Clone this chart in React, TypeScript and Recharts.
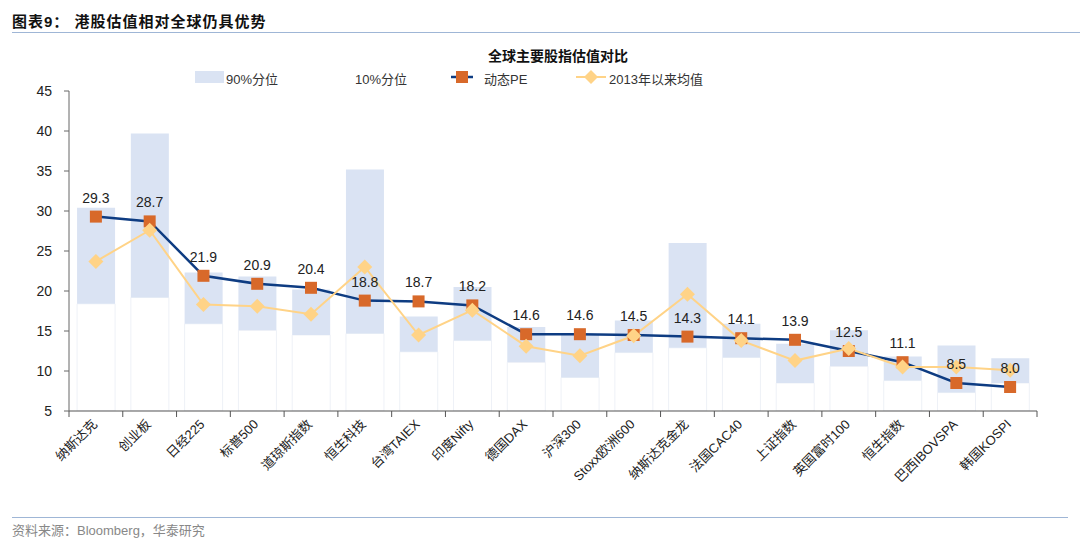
import { ComposedChart, Bar, Line, XAxis, YAxis, LabelList, Legend } from "recharts"

const categories = [
  "纳斯达克", "创业板", "日经225", "标普500", "道琼斯指数", "恒生科技", "台湾TAIEX", "印度Nifty", "德国DAX",
  "沪深300", "Stoxx欧洲600", "纳斯达克金龙", "法国CAC40", "上证指数", "英国富时100", "恒生指数", "巴西IBOVSPA", "韩国KOSPI",
]
const pe = [29.3, 28.7, 21.9, 20.9, 20.4, 18.8, 18.7, 18.2, 14.6, 14.6, 14.5, 14.3, 14.1, 13.9, 12.5, 11.1, 8.5, 8.0]
const avg2013 = [23.7, 27.6, 18.3, 18.1, 17.1, 23.0, 14.5, 17.6, 13.1, 11.9, 14.4, 19.6, 13.8, 11.3, 12.8, 10.5, 10.5, 10.1]
const p10 = [18.4, 19.2, 15.9, 15.1, 14.5, 14.7, 12.4, 13.8, 11.1, 9.2, 12.3, 12.9, 11.7, 8.5, 10.6, 8.8, 7.3, 8.5]
const p90 = [30.4, 39.7, 22.3, 21.8, 20.2, 35.2, 16.8, 20.5, 15.5, 14.5, 16.3, 26.0, 15.9, 13.4, 15.1, 11.8, 13.2, 11.6]
const yTicks = [5, 10, 15, 20, 25, 30, 35, 40, 45]

const data = categories.map((name, i) => ({
  name,
  p10: p10[i],
  band: +(p90[i] - p10[i]).toFixed(1),
  pe: pe[i],
  avg: avg2013[i],
}))

const FONT = '"Liberation Sans", Arial, "Noto Sans CJK SC", sans-serif'
const BAND = "#DAE3F3"
const NAVY = "#0E3C82"
const ORANGE = "#D8692A"
const GOLD = "#FFD387"
const bw = (1037 - 69) / categories.length

const Square = (props: any) => {
  const { cx, cy } = props
  if (cx == null || cy == null) return null
  return <rect x={cx - 6} y={cy - 6} width={12} height={12} fill={ORANGE} />
}

const Diamond = (props: any) => {
  const { cx, cy } = props
  if (cx == null || cy == null) return null
  const r = 7.5
  return <polygon points={`${cx},${cy - r} ${cx + r},${cy} ${cx},${cy + r} ${cx - r},${cy}`} fill={GOLD} />
}

const XTick = (props: any) => {
  const { x, y, payload, index } = props
  return (
    <g>
      {index === 0 && <line x1={x - bw / 2} y1={y} x2={x - bw / 2} y2={y + 6} stroke="#555" />}
      <line x1={x + bw / 2} y1={y} x2={x + bw / 2} y2={y + 6} stroke="#555" />
      <text
        x={x + 2}
        y={y + 14}
        textAnchor="end"
        transform={`rotate(-45 ${x + 2} ${y + 14})`}
        fontSize={13}
        fill="#222"
        fontFamily={FONT}
      >
        {payload.value}
      </text>
    </g>
  )
}

const LegendBox = () => (
  <div style={{ position: "relative", height: 20, fontFamily: FONT, fontSize: 13, color: "#333" }}>
    <div style={{ position: "absolute", left: 195, top: 3, width: 29, height: 12, background: BAND }} />
    <span style={{ position: "absolute", left: 226, top: 1 }}>90%分位</span>
    <span style={{ position: "absolute", left: 355, top: 1 }}>10%分位</span>
    <svg style={{ position: "absolute", left: 451, top: 1 }} width={22} height={16}>
      <line x1={0} y1={8} x2={22} y2={8} stroke={NAVY} strokeWidth={2.5} />
      <rect x={5} y={2} width={12} height={12} fill={ORANGE} />
    </svg>
    <span style={{ position: "absolute", left: 484, top: 1 }}>动态PE</span>
    <svg style={{ position: "absolute", left: 576, top: 1 }} width={30} height={16}>
      <line x1={0} y1={8} x2={30} y2={8} stroke={GOLD} strokeWidth={2} />
      <polygon points="15,1 22,8 15,15 8,8" fill={GOLD} />
    </svg>
    <span style={{ position: "absolute", left: 609, top: 1 }}>2013年以来均值</span>
  </div>
)

export default function App() {
  return (
    <div style={{ position: "absolute", left: 0, top: 0, width: 1080, height: 543, background: "#fff", fontFamily: FONT }}>
      <div style={{ position: "absolute", left: 12, top: 10, fontSize: 15, fontWeight: "bold", color: "#111", letterSpacing: 1 }}>
        图表9：&nbsp;港股估值相对全球仍具优势
      </div>
      <div style={{ position: "absolute", left: 12, right: 0, top: 32, height: 1, background: "#9FB6D6" }} />
      <div style={{ position: "absolute", left: 0, width: 1116, top: 45, textAlign: "center", fontSize: 14, fontWeight: "bold", color: "#111" }}>
        全球主要股指估值对比
      </div>
      <ComposedChart
        width={1080}
        height={543}
        data={data}
        margin={{ top: 71, right: 43, bottom: 32, left: 0 }}
        barCategoryGap="15%"
      >
        <XAxis
          dataKey="name"
          interval={0}
          height={100}
          tickLine={false}
          tickSize={0}
          tickMargin={0}
          stroke="#555"
          tick={<XTick />}
        />
        <YAxis
          domain={[5, 45]}
          ticks={yTicks}
          allowDataOverflow
          width={69}
          tickSize={5}
          tickMargin={12}
          stroke="#666"
          tick={{ fontSize: 14, fill: "#222", fontFamily: FONT }}
        />
        <Legend verticalAlign="top" wrapperStyle={{ top: 68, left: 0, width: 1080 }} content={<LegendBox />} />
        <Bar dataKey="p10" stackId="q" fill="#fff" stroke="#EEF1F7" strokeWidth={1} isAnimationActive={false} name="10%分位" />
        <Bar dataKey="band" stackId="q" fill={BAND} isAnimationActive={false} name="90%分位" />
        <Line
          dataKey="pe"
          stroke={NAVY}
          strokeWidth={2.5}
          dot={<Square />}
          activeDot={false}
          isAnimationActive={false}
          name="动态PE"
        >
          <LabelList dataKey="pe" position="top" offset={14} fontSize={14} fill="#222" formatter={(v: any) => Number(v).toFixed(1)} />
        </Line>
        <Line
          dataKey="avg"
          stroke={GOLD}
          strokeWidth={2}
          dot={<Diamond />}
          activeDot={false}
          isAnimationActive={false}
          name="2013年以来均值"
        />
      </ComposedChart>
      <div style={{ position: "absolute", left: 12, width: 1056, top: 517, height: 1, background: "#9FB6D6" }} />
      <div style={{ position: "absolute", left: 12, top: 520, fontSize: 13, color: "#888" }}>
        资料来源：Bloomberg，华泰研究
      </div>
    </div>
  )
}
